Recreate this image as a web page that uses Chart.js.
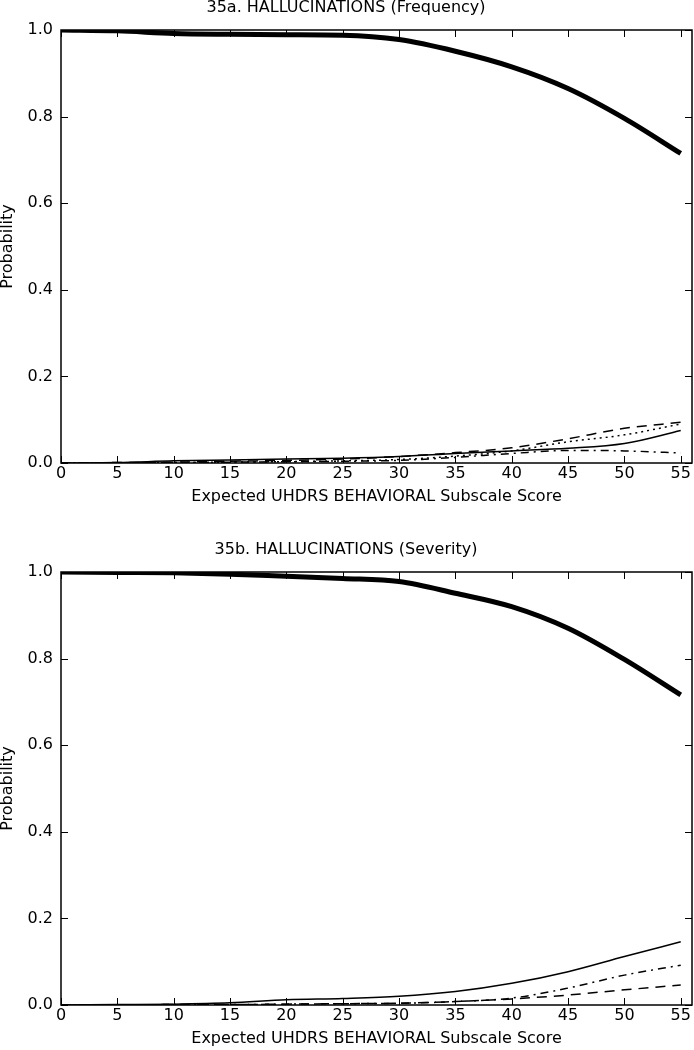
<!DOCTYPE html>
<html>
<head>
<meta charset="utf-8">
<script src="https://cdn.jsdelivr.net/npm/chart.js@4"></script>
<style>
    html, body { margin: 0; padding: 0; background: #fff; }
    body { width: 694px; height: 1050px; overflow: hidden; position: relative; }
    .panel { position: absolute; left: 0; width: 694px; height: 542px; }
    #panelA { top: 0; }
    #panelB { top: 542px; }
</style>
</head>
<body>
<div class="panel" id="panelA"><canvas id="chartFrequency" width="694" height="542"></canvas></div>
<div class="panel" id="panelB"><canvas id="chartSeverity" width="694" height="542"></canvas></div>
<script>
// --- Data ---
const scores = [0, 5, 10, 15, 20, 25, 30, 35, 40, 45, 50, 55];
const xTickValues = [0, 5, 10, 15, 20, 25, 30, 35, 40, 45, 50, 55];
const yTickValues = [0, 0.2, 0.4, 0.6, 0.8, 1.0];

// 35a. Frequency
const freqNone    = [1.000, 0.998, 0.992, 0.990, 0.989, 0.988, 0.978, 0.951, 0.915, 0.865, 0.796, 0.715];
const freqSolid   = [0.000, 0.001, 0.005, 0.007, 0.009, 0.011, 0.015, 0.022, 0.028, 0.034, 0.045, 0.075];
const freqDashed  = [0.000, 0.001, 0.002, 0.004, 0.006, 0.009, 0.015, 0.024, 0.035, 0.056, 0.080, 0.094];
const freqDotted  = [0.000, 0.000, 0.001, 0.002, 0.003, 0.005, 0.008, 0.016, 0.028, 0.049, 0.065, 0.090];
const freqDashDot = [0.000, 0.000, 0.001, 0.002, 0.003, 0.004, 0.006, 0.013, 0.022, 0.029, 0.028, 0.023];

// 35b. Severity
const sevNone     = [1.000, 0.999, 0.998, 0.995, 0.990, 0.985, 0.978, 0.951, 0.920, 0.870, 0.798, 0.716];
const sevSolid    = [0.000, 0.001, 0.002, 0.005, 0.012, 0.015, 0.020, 0.031, 0.050, 0.077, 0.112, 0.146];
const sevDashDot  = [0.000, 0.000, 0.001, 0.001, 0.002, 0.003, 0.004, 0.008, 0.016, 0.039, 0.069, 0.092];
const sevDashed   = [0.000, 0.000, 0.001, 0.001, 0.002, 0.003, 0.004, 0.008, 0.014, 0.023, 0.035, 0.046];

// --- Styles ---
const FONT = { family: '"DejaVu Sans", sans-serif', size: 16, lineHeight: 1 };
const TICK_LEN = 7;
const STYLES = {
    thick:   { borderWidth: 5,   borderDash: [] },
    solid:   { borderWidth: 1.5, borderDash: [] },
    dashed:  { borderWidth: 1.5, borderDash: [10, 7] },
    dotted:  { borderWidth: 1.5, borderDash: [2, 4] },
    dashdot: { borderWidth: 1.5, borderDash: [8, 5, 2, 5] }
};

const toPoints = (values) => values.map((v, i) => ({ x: scores[i], y: v }));

const makeDataset = (values, style) => ({
    data: toPoints(values),
    borderColor: '#000',
    backgroundColor: '#000',
    borderWidth: STYLES[style].borderWidth,
    borderDash: STYLES[style].borderDash,
    pointRadius: 0,
    cubicInterpolationMode: 'monotone',
    fill: false
});

// Inward ticks on all four sides + frame, matplotlib-classic look
const inwardTicks = {
    id: 'inwardTicks',
    afterDatasetsDraw(chart) {
        const { ctx, chartArea: a, scales: { x, y } } = chart;
        ctx.save();
        ctx.strokeStyle = '#000';
        ctx.lineWidth = 1;
        ctx.beginPath();
        x.ticks.forEach(t => {
            const px = Math.round(x.getPixelForValue(t.value)) + 0.5;
            ctx.moveTo(px, a.bottom);
            ctx.lineTo(px, a.bottom - TICK_LEN);
            ctx.moveTo(px, a.top);
            ctx.lineTo(px, a.top + TICK_LEN);
        });
        y.ticks.forEach(t => {
            const py = Math.round(y.getPixelForValue(t.value)) + 0.5;
            ctx.moveTo(a.left, py);
            ctx.lineTo(a.left + TICK_LEN, py);
            ctx.moveTo(a.right, py);
            ctx.lineTo(a.right - TICK_LEN, py);
        });
        ctx.stroke();
        ctx.lineWidth = 1.5;
        ctx.strokeRect(a.left, a.top, a.width, a.height);
        ctx.restore();
    }
};

const makeChart = (canvasId, title, datasets) => new Chart(document.getElementById(canvasId), {
    type: 'line',
    data: { datasets },
    options: {
        responsive: false,
        animation: false,
        events: [],
        layout: { padding: { top: 0, right: 2, bottom: 0, left: 0 } },
        plugins: {
            legend: { display: false },
            tooltip: { enabled: false },
            title: {
                display: true,
                text: title,
                color: '#000',
                font: { ...FONT, weight: 'normal' },
                padding: { top: 0, bottom: 14 }
            }
        },
        scales: {
            x: {
                type: 'linear',
                min: 0,
                max: 56,
                afterBuildTicks: (scale) => { scale.ticks = xTickValues.map(v => ({ value: v })); },
                afterFit: (scale) => { scale.height = 79; },
                grid: { display: false, drawTicks: false },
                border: { display: false },
                ticks: { color: '#000', font: FONT, padding: 3, autoSkip: false, maxRotation: 0 },
                title: {
                    display: true,
                    text: 'Expected UHDRS BEHAVIORAL Subscale Score',
                    color: '#000',
                    font: FONT,
                    padding: { top: 0, bottom: 37 }
                }
            },
            y: {
                min: 0,
                max: 1,
                afterBuildTicks: (scale) => { scale.ticks = yTickValues.map(v => ({ value: v })); },
                afterFit: (scale) => { scale.width = 61; },
                grid: { display: false, drawTicks: false },
                border: { display: false },
                ticks: { color: '#000', font: FONT, padding: 8, callback: (v) => Number(v).toFixed(1) },
                title: {
                    display: true,
                    text: 'Probability',
                    color: '#000',
                    font: FONT,
                    padding: { top: 0, bottom: 0 }
                }
            }
        }
    },
    plugins: [inwardTicks]
});

makeChart('chartFrequency', '35a. HALLUCINATIONS (Frequency)', [
    makeDataset(freqNone, 'thick'),
    makeDataset(freqSolid, 'solid'),
    makeDataset(freqDashed, 'dashed'),
    makeDataset(freqDotted, 'dotted'),
    makeDataset(freqDashDot, 'dashdot')
]);

makeChart('chartSeverity', '35b. HALLUCINATIONS (Severity)', [
    makeDataset(sevNone, 'thick'),
    makeDataset(sevSolid, 'solid'),
    makeDataset(sevDashDot, 'dashdot'),
    makeDataset(sevDashed, 'dashed')
]);
</script>
</body>
</html>
